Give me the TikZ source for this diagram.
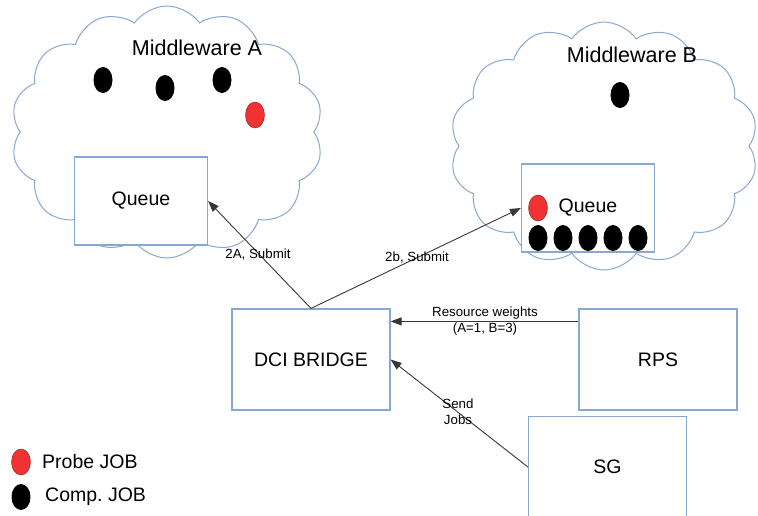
\documentclass[tikz,border=0pt]{standalone}
\usepackage{fontspec}
\setmainfont{Liberation Sans}
\usetikzlibrary{shapes.geometric,shapes.symbols,arrows.meta,positioning}
\definecolor{boxblue}{RGB}{135,168,210}
\definecolor{probered}{RGB}{240,50,50}
\definecolor{edgegray}{RGB}{55,55,55}
\begin{document}
\begin{tikzpicture}[x=1pt,y=-1pt,
	mw/.style={cloud,draw=boxblue,line width=1pt,cloud puffs=14,cloud puff arc=110,aspect=1.25,inner sep=0pt},
	box/.style={draw=boxblue,fill=white,line width=1.2pt,minimum width=158pt,minimum height=101pt,font=\fontsize{19.5}{22}\selectfont},
	queuebox/.style={box,minimum width=133pt,minimum height=88pt},
	job/.style={ellipse,minimum width=19pt,minimum height=26pt,inner sep=0pt},
	comp/.style={job,fill=black},
	probe/.style={job,fill=probered,draw=probered!60!black,line width=0.4pt},
	arr/.style={draw=edgegray,line width=0.9pt,-{Triangle[length=11pt,width=8pt]}},
	lbl/.style={font=\fontsize{13.3}{16}\selectfont,inner sep=0pt,align=center},
	big/.style={font=\fontsize{19.5}{22}\selectfont,inner sep=0pt}]
	\useasboundingbox (0,0) rectangle (758,515);
	% middleware clouds
	\node[mw,minimum width=312pt,minimum height=252pt] (cloudA) at (167,132) {};
	\node[mw,minimum width=308pt,minimum height=248pt] (cloudB) at (604,146) {};
	\node[big,font=\fontsize{21.5}{24}\selectfont] (mwA) at (197,48) {Middleware A};
	\node[big,font=\fontsize{21.5}{24}\selectfont] (mwB) at (632,55) {Middleware B};
	% queues
	\node[queuebox] (queueA) at (141,201) {Queue};
	\node[queuebox] (queueB) at (588,208) {Queue};
	% jobs
	\node[comp] (jA1) at (103,80) {};
	\node[comp] (jA2) at (165,88) {};
	\node[comp] (jA3) at (222,80) {};
	\node[probe] (pA) at (255,115) {};
	\node[comp] (jB) at (620,95) {};
	\node[probe] (pB) at (538,208) {};
	\foreach \i/\x in {1/538,2/563,3/588,4/613,5/638}
		\node[comp] (qB\i) at (\x,238) {};
	% components
	\node[box] (dci) at (311,359.5) {DCI BRIDGE};
	\node[box] (rps) at (658,359.5) {RPS};
	\node[box] (sg) at (607.5,467) {SG};
	% connectors
	\draw[arr] (dci.north) -- (queueA.east);
	\draw[arr] (dci.north) -- (queueB.west);
	\draw[arr] ([yshift=-13pt]rps.north west) -- ([yshift=-13pt]dci.north east);
	\draw[arr] (sg.west) -- (dci.east);
	\node[lbl] (l2a) at (258,255) {2A, Submit};
	\node[lbl] (l2b) at (417,258) {2b, Submit};
	\node[lbl] (lrw) at (485,321) {Resource weights\\(A=1, B=3)};
	\node[lbl] (lsj) at (458,412) {Send\\Jobs};
	% legend
	\node[probe] (legP) at (21,462) {};
	\node[big,anchor=west] (legPt) at (42,462) {Probe JOB};
	\node[comp] (legC) at (21,497) {};
	\node[big,anchor=west] (legCt) at (45,497) {Comp.\ JOB};
\end{tikzpicture}
\end{document}
